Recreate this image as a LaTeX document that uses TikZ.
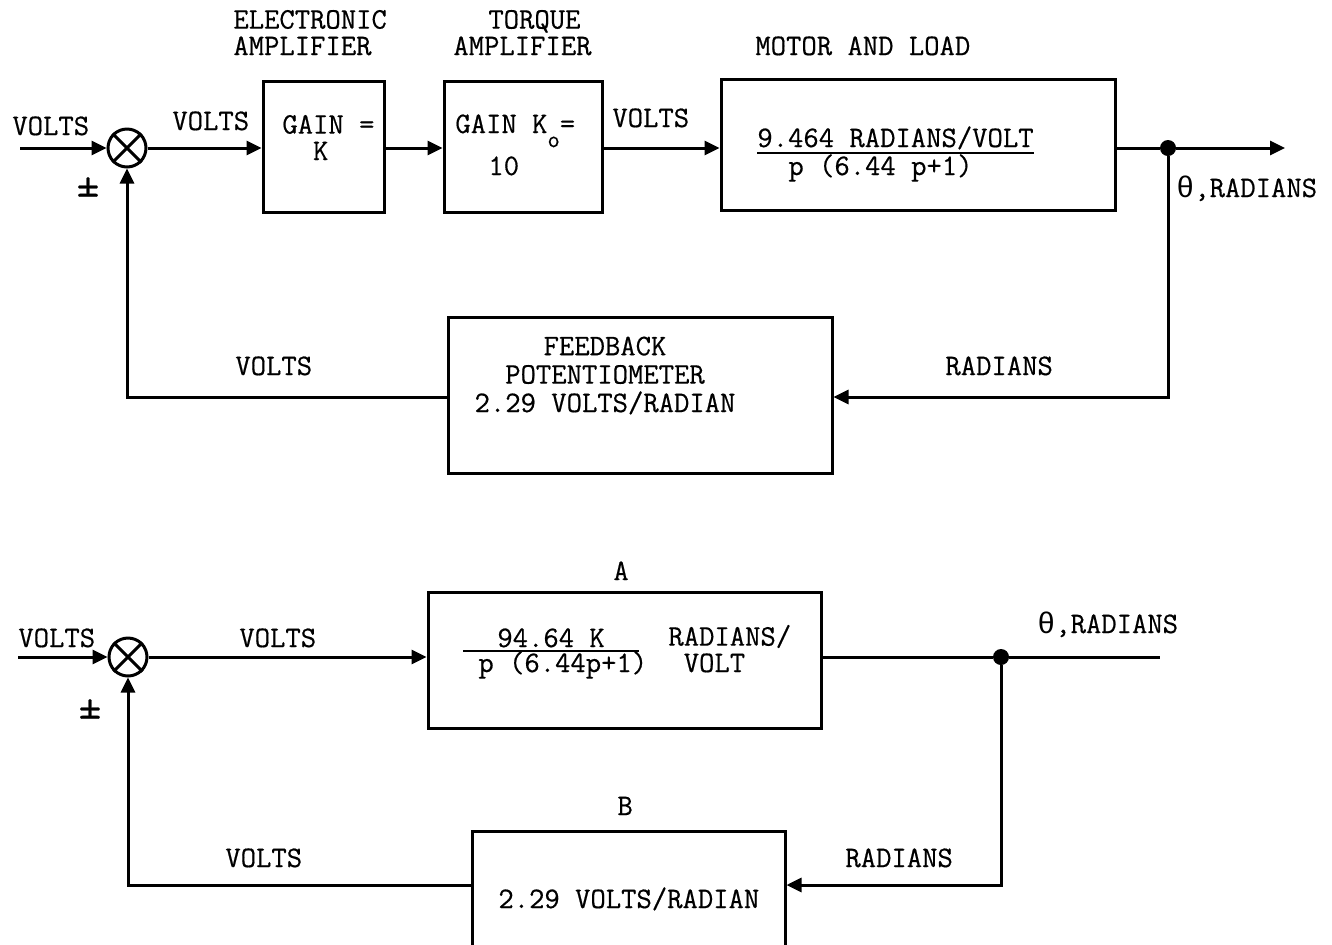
\documentclass[tikz,border=0pt]{standalone}
\usepackage{fontspec}
\setmonofont{Latin Modern Mono}[FakeBold=0.5]
\newfontfamily\grkfont{Liberation Mono}
\usepackage{tikz}
\usetikzlibrary{arrows.meta,positioning,calc}
\newcommand{\twfont}{\ttfamily\fontsize{14.9}{13.2}\selectfont}
\newcommand{\pmsign}{{\fontsize{22}{22}\selectfont ±}}
\tikzset{
  block/.style={draw=black, line width=1.5pt, inner sep=0pt},
  sumjn/.style={draw=black, circle, line width=1.5pt, minimum size=19pt, inner sep=0pt},
  sig/.style={-{Triangle[length=7.5pt,width=7pt]}, line width=1.5pt},
  wire/.style={line width=1.5pt},
  barline/.style={line width=1pt},
  lbl/.style={inner sep=0pt, align=left, anchor=base west, font=\twfont},
  dot/.style={circle, fill=black, minimum size=8pt, inner sep=0pt}
}

\begin{document}
\begin{tikzpicture}[x=0.5pt,y=-0.5pt]
\useasboundingbox (0,0) rectangle (1332,944);
\node[sumjn] (sum1) at (127,148) {};
\draw[wire] (sum1.north west) -- (sum1.south east) (sum1.north east) -- (sum1.south west);
\coordinate (in1) at (20,148);
\node[block, minimum width=60.5pt, minimum height=65.5pt] (eamp) at (323.5,146.5) {};
\node[block, minimum width=79pt, minimum height=65.5pt] (tamp) at (523,146.5) {};
\node[block, minimum width=197pt, minimum height=65.5pt] (motor) at (918,144.5) {};
\node[block, minimum width=192pt, minimum height=78pt] (fbpot) at (640,395) {};
\node[dot] (out1) at (1168,148) {};
\coordinate (end1) at (1285,148);

\node[lbl] at (233,55) {ELECTRONIC\\AMPLIFIER};
\node[lbl] at (453,55) {\hspace*{17.5pt}TORQUE\\AMPLIFIER};
\node[lbl] at (755,55) {MOTOR AND LOAD};
\node[lbl] at (282,160) {GAIN =\\~~K};
\node[lbl] at (455,133) {GAIN K\raisebox{-1.1ex}{\fontsize{12}{12}\selectfont o}=};
\node[lbl] at (488,175) {10};
\node[lbl] (mnum) at (757,147) {9.464 RADIANS/VOLT};
\node[lbl] (mden) at (788,175) {p (6.44 p+1)};
\draw[barline] ([yshift=-3pt]mnum.base west) -- ([yshift=-3pt]mnum.base east);
\node[lbl, align=center, anchor=base] at (605,412) {FEEDBACK\\[1pt]POTENTIOMETER\\[1pt]2.29 VOLTS/RADIAN};

\node[lbl] at (12,135) {VOLTS};
\draw[sig] (in1) -- (sum1.west);
\node[lbl] at (172,130) {VOLTS};
\draw[sig] (sum1.east) -- (eamp.west |- sum1);
\draw[sig] (eamp.east |- sum1) -- (tamp.west |- sum1);
\node[lbl] at (612,127) {VOLTS};
\draw[sig] (tamp.east |- sum1) -- (motor.west |- sum1);
\draw[wire] (motor.east |- sum1) -- (out1);
\draw[sig] (out1) -- (end1);
\node[lbl] at (1176,197) {{\grkfont θ},RADIANS};
\draw[sig] (out1) |- (fbpot.east |- 0,397);
\node[lbl] at (945,375) {RADIANS};
\draw[sig] (fbpot.west |- 0,397) -| (sum1.south);
\node[lbl] at (235,375) {VOLTS};
\node[lbl, anchor=center] at (88,187) {\pmsign};

\node[sumjn] (sum2) at (128,657) {};
\draw[wire] (sum2.north west) -- (sum2.south east) (sum2.north east) -- (sum2.south west);
\coordinate (in2) at (18,657);
\node[block, minimum width=196.5pt, minimum height=68pt] (blkA) at (624.5,660) {};
\node[block, minimum width=156.5pt, minimum height=59.5pt] (blkB) at (628.5,890.5) {};
\node[dot] (out2) at (1001,657) {};
\coordinate (end2) at (1160,657);

\node[lbl] at (613,580) {A};
\node[lbl] at (617,815) {B};
\node[lbl] (anum) at (497,647) {94.64 K};
\node[lbl] (aden) at (478,672) {p (6.44p+1)};
\draw[barline] ([xshift=-17pt,yshift=-2pt]anum.base west) -- ([xshift=17pt,yshift=-2pt]anum.base east);
\node[lbl] at (668,672) {RADIANS/\\~VOLT};
\node[lbl] at (498,908) {2.29 VOLTS/RADIAN};

\node[lbl] at (18,647) {VOLTS};
\draw[sig] (in2) -- (sum2.west);
\node[lbl] at (239,647) {VOLTS};
\draw[sig] (sum2.east) -- (blkA.west |- sum2);
\draw[wire] (blkA.east |- sum2) -- (out2);
\draw[wire] (out2) -- (end2);
\node[lbl] at (1037,633) {{\grkfont θ},RADIANS};
\draw[sig] (out2) |- (blkB.east |- 0,885);
\node[lbl] at (845,867) {RADIANS};
\draw[sig] (blkB.west |- 0,885) -| (sum2.south);
\node[lbl] at (225,867) {VOLTS};
\node[lbl, anchor=center] at (90,709) {\pmsign};
\end{tikzpicture}
\end{document}
